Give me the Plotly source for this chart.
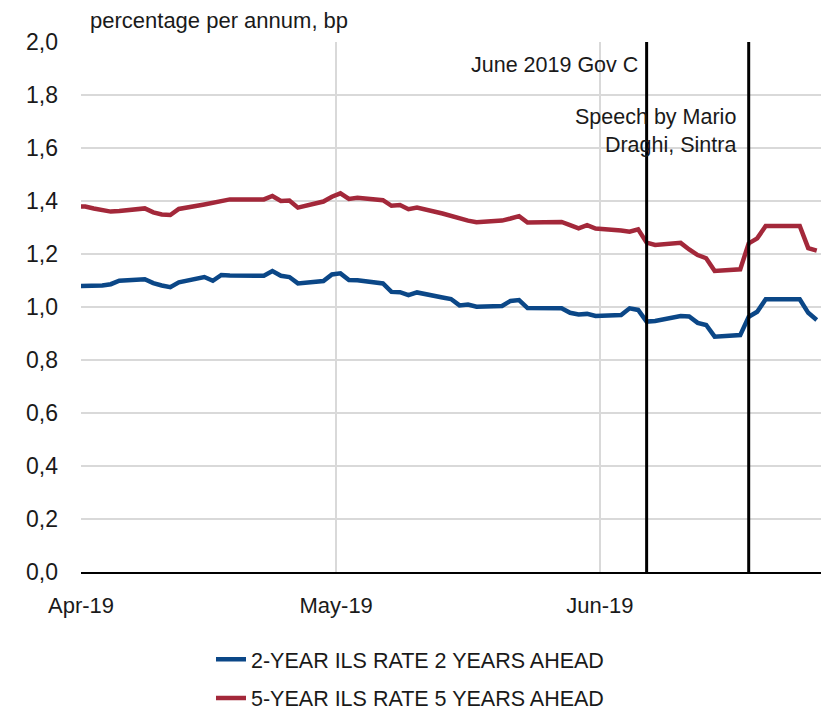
import plotly.graph_objects as go
import pandas as pd

dates = ["2019-03-29",
 "2019-04-01","2019-04-02","2019-04-03","2019-04-04","2019-04-05",
 "2019-04-08","2019-04-09","2019-04-10","2019-04-11","2019-04-12",
 "2019-04-15","2019-04-16","2019-04-17","2019-04-18","2019-04-19",
 "2019-04-22","2019-04-23","2019-04-24","2019-04-25","2019-04-26",
 "2019-04-29","2019-04-30",
 "2019-05-01","2019-05-02","2019-05-03",
 "2019-05-06","2019-05-07","2019-05-08","2019-05-09","2019-05-10",
 "2019-05-13","2019-05-14","2019-05-15","2019-05-16","2019-05-17",
 "2019-05-20","2019-05-21","2019-05-22","2019-05-23","2019-05-24",
 "2019-05-27","2019-05-28","2019-05-29","2019-05-30","2019-05-31",
 "2019-06-03","2019-06-04","2019-06-05","2019-06-06","2019-06-07",
 "2019-06-10","2019-06-11","2019-06-12","2019-06-13","2019-06-14",
 "2019-06-17","2019-06-18","2019-06-19","2019-06-20","2019-06-21",
 "2019-06-24","2019-06-25","2019-06-26"]

ils_2y2y = [1.078,
 1.078, 1.077, 1.081, 1.086, 1.099,
 1.105, 1.090, 1.081, 1.075, 1.093,
 1.113, 1.099, 1.121, 1.119, 1.119,
 1.118, 1.136, 1.118, 1.113, 1.089,
 1.098, 1.123,
 1.127, 1.102, 1.101,
 1.089, 1.057, 1.056, 1.045, 1.055,
 1.036, 1.030, 1.006, 1.009, 1.001,
 1.004, 1.023, 1.026, 0.996, 0.995,
 0.995, 0.978, 0.972, 0.974, 0.966,
 0.970, 0.995, 0.989, 0.945, 0.947,
 0.966, 0.964, 0.940, 0.932, 0.888,
 0.894, 0.963, 0.982, 1.029, 1.029,
 1.029, 0.978, 0.951]

ils_5y5y = [1.383,
 1.379, 1.372, 1.366, 1.360, 1.362,
 1.372, 1.357, 1.349, 1.347, 1.370,
 1.387, 1.392, 1.400, 1.406, 1.406,
 1.406, 1.419, 1.400, 1.402, 1.375,
 1.398, 1.416,
 1.429, 1.408, 1.412,
 1.403, 1.382, 1.385, 1.369, 1.375,
 1.353, 1.343, 1.332, 1.326, 1.320,
 1.326, 1.334, 1.343, 1.319, 1.320,
 1.321, 1.309, 1.297, 1.309, 1.296,
 1.289, 1.284, 1.293, 1.243, 1.234,
 1.242, 1.217, 1.196, 1.184, 1.136,
 1.142, 1.240, 1.259, 1.306, 1.306,
 1.306, 1.222, 1.213]

series_names = ["2-YEAR ILS RATE 2 YEARS AHEAD", "5-YEAR ILS RATE 5 YEARS AHEAD"]
event_dates = ["2019-06-06", "2019-06-18"]
event_labels = ["June 2019 Gov C", "Speech by Mario<br>Draghi, Sintra"]
y_tickvals = [0.0, 0.2, 0.4, 0.6, 0.8, 1.0, 1.2, 1.4, 1.6, 1.8, 2.0]

FONT = "Liberation Sans, Arial, sans-serif"
TXT = "#1a1a1a"
BLUE = "#0b4787"
RED = "#a3283a"
DAY_MS = 86400000

fig = go.Figure()
for i, (name, vals, col) in enumerate([(series_names[0], ils_2y2y, BLUE),
                                        (series_names[1], ils_5y5y, RED)]):
    fig.add_trace(go.Scatter(
        x=dates, y=vals, name=name, mode="lines",
        xperiod=DAY_MS, xperiodalignment="middle",
        line=dict(color=col, width=4.5),
        legendgroup=f"g{i}",
    ))

# event markers (placed mid-day like the series points)
for d, lab, shift, yy in zip(event_dates, event_labels, [-7, -11], [0.957, 0.832]):
    xm = pd.Timestamp(d) + pd.Timedelta(hours=12)
    fig.add_shape(type="line", xref="x", yref="paper", x0=xm, x1=xm, y0=0, y1=1,
                  line=dict(color="black", width=3), layer="above")
    fig.add_annotation(x=xm, y=yy, xref="x", yref="paper", text=lab, showarrow=False,
                       xanchor="right", yanchor="middle", xshift=shift, align="right",
                       font=dict(family=FONT, size=21.5, color=TXT))

fig.add_annotation(x=0, y=1, xref="paper", yref="paper", text="percentage per annum, bp",
                   showarrow=False, xanchor="left", yanchor="bottom", xshift=7, yshift=7,
                   font=dict(family=FONT, size=22, color=TXT))

fig.update_layout(
    width=821, height=716,
    margin=dict(l=81, r=0, t=42, b=144, autoexpand=False),
    paper_bgcolor="white", plot_bgcolor="white",
    separators=", ",
    font=dict(family=FONT, size=22, color=TXT),
    showlegend=True,
    legend=dict(orientation="v", xref="container", yref="container",
                x=0.257, xanchor="left", y=0.108, yanchor="top",
                font=dict(family=FONT, size=21.5, color=TXT),
                tracegroupgap=8, traceorder="grouped", itemwidth=30),
    xaxis=dict(type="date", range=["2019-04-01", "2019-06-27"], automargin=False,
               tick0="2019-04-01", dtick="M1", tickformat="%b-%y",
               showgrid=True, gridcolor="#d9d9d9", gridwidth=1.5,
               showline=True, linecolor="black", linewidth=2,
               ticks="", ticklabelstandoff=13,
               tickfont=dict(family=FONT, size=22, color=TXT)),
    yaxis=dict(range=[0, 2.0], tickvals=y_tickvals, tickformat=".1f", automargin=False,
               showgrid=True, gridcolor="#d9d9d9", gridwidth=1.5,
               zeroline=False, showline=False, ticks="",
               ticklabelstandoff=22,
               tickfont=dict(family=FONT, size=23, color=TXT)),
)

fig.write_html("out.html")
